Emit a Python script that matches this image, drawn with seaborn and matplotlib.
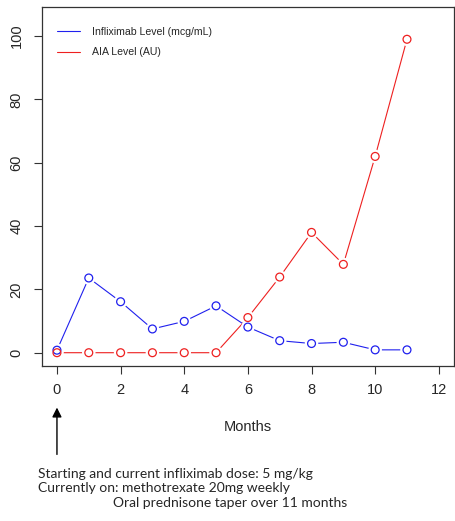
import pandas as pd
import matplotlib
matplotlib.use('Agg')
import matplotlib.pyplot as plt
import seaborn as sns
import numpy as np

# values
months = [0, 1, 2, 3, 4, 5, 6, 7, 8, 9, 10, 11]
infliximab = [0.8, 23.6, 16.1, 7.5, 9.9, 14.8, 8.1, 3.8, 2.9, 3.3, 0.9, 0.9]
aia = [0, 0, 0, 0, 0, 0, 11.1, 23.9, 38.0, 27.9, 62.0, 99.0]
x_ticks = [0, 2, 4, 6, 8, 10, 12]
y_ticks = [0, 20, 40, 60, 80, 100]
notes = ["Starting and current infliximab dose: 5 mg/kg",
         "Currently on: methotrexate 20mg weekly"]
note3 = "Oral prednisone taper over 11 months"

df = pd.DataFrame({'Months': months, 'Infliximab': infliximab, 'AIA': aia})

sns.set_theme(style='white')
plt.rcParams['font.family'] = ['Liberation Sans', 'DejaVu Sans']

fig = plt.figure(figsize=(4.55, 5.21), dpi=100)
ax = fig.add_axes([0.0916, 0.2975, 0.9064, 0.6891])

# lines first, then white discs to open gaps (R type="b"), then hollow markers
sns.lineplot(data=df, x='Months', y='Infliximab', color='#2020ee', linewidth=0.8,
             label='Infliximab Level (mcg/mL)', ax=ax, zorder=1)
sns.lineplot(data=df, x='Months', y='AIA', color='#ee2020', linewidth=0.8,
             label='AIA Level (AU)', ax=ax, zorder=1)
for col in ['Infliximab', 'AIA']:
    sns.scatterplot(data=df, x='Months', y=col, color='white', s=95,
                    edgecolor='none', ax=ax, zorder=2, legend=False)
for col, c in [('Infliximab', '#2020ee'), ('AIA', '#ee2020')]:
    sns.scatterplot(data=df, x='Months', y=col, marker='o', s=32,
                    facecolor='none', edgecolor=c, linewidth=0.9,
                    ax=ax, zorder=3, legend=False)

ax.set_xlim(-0.48, 12.48)
ax.set_ylim(-4.2, 109.2)
ax.set_xticks(x_ticks)
ax.set_yticks(y_ticks)
ax.set_ylabel('')
ax.set_xlabel('Months', fontsize=10.5, labelpad=17)

for s in ax.spines.values():
    s.set_visible(True)
    s.set_color('#333333')
    s.set_linewidth(0.9)
ax.tick_params(axis='both', which='major', direction='out', length=6,
               width=0.8, color='#333333', labelsize=10.5, bottom=True, left=True)
ax.tick_params(axis='x', pad=6)
ax.tick_params(axis='y', pad=7)
for lab in ax.get_yticklabels():
    lab.set_rotation(90)
    lab.set_va('center')

handles = ax.get_lines()[:2]
ax.legend(handles=handles, labels=['Infliximab Level (mcg/mL)', 'AIA Level (AU)'],
          frameon=False, loc='upper left', bbox_to_anchor=(0.037, 0.945),
          borderpad=0, borderaxespad=0, fontsize=7.6, handlelength=2.2,
          handletextpad=1.1, labelspacing=1.0)

# arrow under the 0 tick
ax.annotate('', xy=(0, -0.108), xytext=(0, -0.254),
            xycoords=ax.get_xaxis_transform(), textcoords=ax.get_xaxis_transform(),
            arrowprops=dict(arrowstyle='-|>', color='black', lw=1.0,
                            mutation_scale=14), annotation_clip=False)

fig.text(0.0835, 0.0902, notes[0], fontsize=10, family=['Lato', 'DejaVu Sans'], va='center')
fig.text(0.0835, 0.0633, notes[1], fontsize=10, family=['Lato', 'DejaVu Sans'], va='center')
fig.text(0.248, 0.0345, note3, fontsize=10, family=['Lato', 'DejaVu Sans'], va='center')

fig.savefig('out.png', dpi=100)
